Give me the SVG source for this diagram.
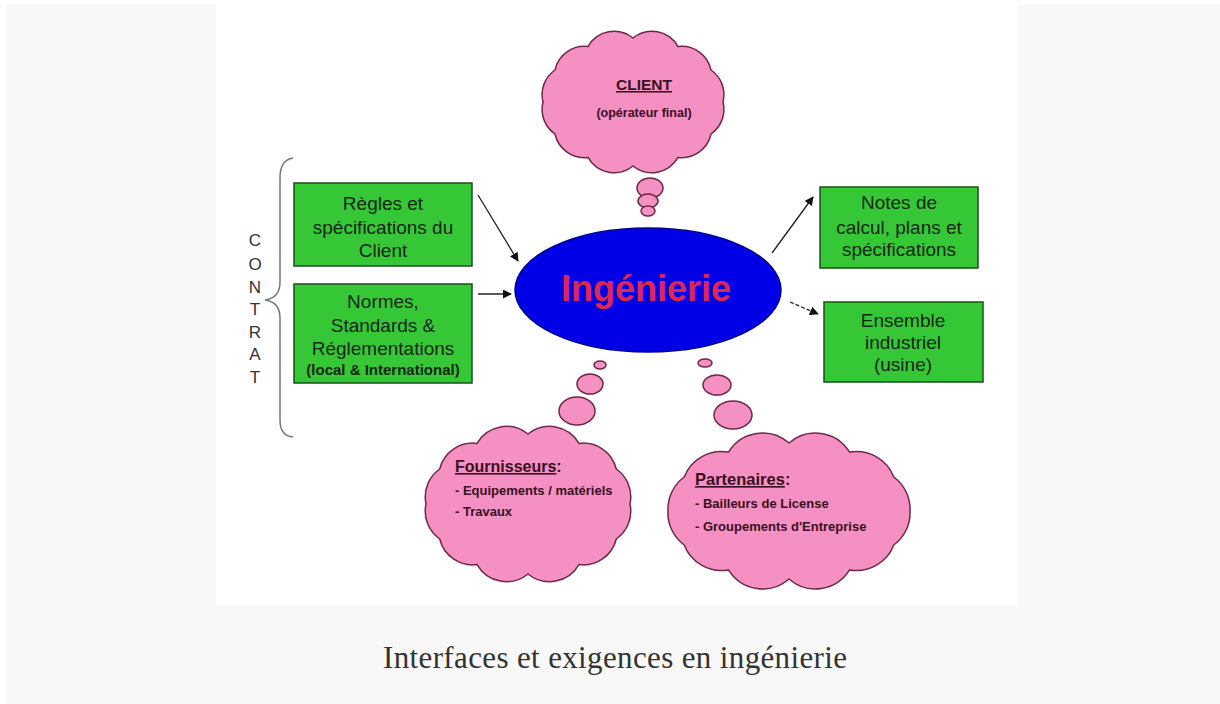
<svg xmlns="http://www.w3.org/2000/svg" width="1220" height="704" viewBox="0 0 1220 704">
  <defs>
    <marker id="arrow" viewBox="0 0 10 10" refX="9" refY="5" markerWidth="9" markerHeight="9" markerUnits="userSpaceOnUse" orient="auto">
      <path d="M0,0 L10,5 L0,10 Z" fill="#111"/>
    </marker>
  </defs>
  <style>
    .cloud { fill: #f590c2; stroke: #6e2848; stroke-width: 1.5; }
    .box { fill: #36c736; stroke: #1d4f1d; stroke-width: 1.5; }
    .btxt { font-family: "Liberation Sans", Arial, sans-serif; font-size: 19px; fill: #102810; text-anchor: middle; }
    .small { font-size: 15px; font-weight: bold; }
    .ctxt { font-family: "Liberation Sans", Arial, sans-serif; font-weight: bold; fill: #3a0f22; }
    .conn { stroke: #222; stroke-width: 1.3; fill: none; }
    .contrat { font-family: "Liberation Sans", Arial, sans-serif; font-size: 17px; fill: #333; text-anchor: middle; }
  </style>

  <rect x="6" y="5" width="1214" height="699" fill="#f8f8f8"/>
  <rect x="216" y="5" width="802" height="601" fill="#ffffff"/>

  <g id="client">
    <path class="cloud" d="M543,102 A30,30 0 0 1 555,70 A30,30 0 0 1 588,46.6 A30,30 0 0 1 633,38 A30,30 0 0 1 678,46.6 A30,30 0 0 1 711,70 A30,30 0 0 1 723,102 A30,30 0 0 1 711,134 A30,30 0 0 1 678,157.4 A30,30 0 0 1 633,166 A30,30 0 0 1 588,157.4 A30,30 0 0 1 555,134 A30,30 0 0 1 543,102 Z"/>
    <ellipse class="cloud" cx="650" cy="188" rx="13" ry="10"/>
    <ellipse class="cloud" cx="648" cy="201" rx="10" ry="7"/>
    <ellipse class="cloud" cx="648" cy="211" rx="7" ry="5"/>
    <text class="ctxt" x="644" y="90" font-size="15.5" text-anchor="middle" text-decoration="underline">CLIENT</text>
    <text class="ctxt" x="644" y="117" font-size="12.5" text-anchor="middle">(opérateur final)</text>
  </g>

  <g id="contrat">
    <path d="M293,158 Q280,160 280,178 L280,282 Q280,298 265,300 Q280,302 280,318 L280,420 Q280,436 293,437" fill="none" stroke="#777" stroke-width="1.5"/>
    <text class="contrat" x="255" y="246">C</text>
    <text class="contrat" x="255" y="270">O</text>
    <text class="contrat" x="255" y="293">N</text>
    <text class="contrat" x="255" y="315">T</text>
    <text class="contrat" x="255" y="338">R</text>
    <text class="contrat" x="255" y="360">A</text>
    <text class="contrat" x="255" y="383">T</text>
  </g>

  <g id="regles">
    <rect class="box" x="294" y="183" width="178" height="83"/>
    <text class="btxt" x="383" y="210">Règles et</text>
    <text class="btxt" x="383" y="234">spécifications du</text>
    <text class="btxt" x="383" y="257">Client</text>
  </g>

  <g id="normes">
    <rect class="box" x="294" y="284" width="178" height="99"/>
    <text class="btxt" x="383" y="308">Normes,</text>
    <text class="btxt" x="383" y="332">Standards &amp;</text>
    <text class="btxt" x="383" y="355">Réglementations</text>
    <text class="btxt small" x="383" y="375">(local &amp; International)</text>
  </g>

  <g id="ingenierie">
    <ellipse cx="648" cy="290" rx="133" ry="62" fill="#0000e6" stroke="#00008b" stroke-width="1.5"/>
    <text x="646" y="301" font-family="Liberation Sans, Arial, sans-serif" font-size="36" font-weight="bold" fill="#dc2850" text-anchor="middle">Ingénierie</text>
  </g>

  <g id="notes">
    <rect class="box" x="820" y="187" width="158" height="81"/>
    <text class="btxt" x="899" y="209">Notes de</text>
    <text class="btxt" x="899" y="234">calcul, plans et</text>
    <text class="btxt" x="899" y="256">spécifications</text>
  </g>

  <g id="ensemble">
    <rect class="box" x="824" y="302" width="159" height="80"/>
    <text class="btxt" x="903" y="327">Ensemble</text>
    <text class="btxt" x="903" y="349">industriel</text>
    <text class="btxt" x="903" y="371">(usine)</text>
  </g>

  <g id="fournisseurs">
    <ellipse class="cloud" cx="600" cy="365" rx="6" ry="4"/>
    <ellipse class="cloud" cx="590" cy="384" rx="13" ry="10"/>
    <ellipse class="cloud" cx="577" cy="411" rx="18" ry="14"/>
    <path class="cloud" d="M426,504 A34,34 0 0 1 439.7,469 A34,34 0 0 1 477,443.4 A34,34 0 0 1 528,434 A34,34 0 0 1 579,443.4 A34,34 0 0 1 616.3,469 A34,34 0 0 1 630,504 A34,34 0 0 1 616.3,539 A34,34 0 0 1 579,564.6 A34,34 0 0 1 528,574 A34,34 0 0 1 477,564.6 A34,34 0 0 1 439.7,539 A34,34 0 0 1 426,504 Z"/>
    <text class="ctxt" x="455" y="472" font-size="16"><tspan text-decoration="underline">Fournisseurs</tspan>:</text>
    <text class="ctxt" x="455" y="495" font-size="13">- Equipements / matériels</text>
    <text class="ctxt" x="455" y="516" font-size="13">- Travaux</text>
  </g>

  <g id="partenaires">
    <ellipse class="cloud" cx="705" cy="363" rx="7" ry="4"/>
    <ellipse class="cloud" cx="717" cy="385" rx="14" ry="10"/>
    <ellipse class="cloud" cx="733" cy="415" rx="19" ry="14"/>
    <path class="cloud" d="M668,511 A40,40 0 0 1 684.2,477 A40,40 0 0 1 728.5,452.1 A40,40 0 0 1 789,443 A40,40 0 0 1 849.5,452.1 A40,40 0 0 1 893.8,477 A40,40 0 0 1 910,511 A40,40 0 0 1 893.8,545 A40,40 0 0 1 849.5,569.9 A40,40 0 0 1 789,579 A40,40 0 0 1 728.5,569.9 A40,40 0 0 1 684.2,545 A40,40 0 0 1 668,511 Z"/>
    <text class="ctxt" x="695" y="485" font-size="16.5"><tspan text-decoration="underline">Partenaires</tspan>:</text>
    <text class="ctxt" x="695" y="508" font-size="13">- Bailleurs de License</text>
    <text class="ctxt" x="695" y="531" font-size="13">- Groupements d'Entreprise</text>
  </g>

  <g id="connectors">
    <line class="conn" x1="478" y1="195" x2="518" y2="261" marker-end="url(#arrow)"/>
    <line class="conn" x1="478" y1="294" x2="511" y2="294" marker-end="url(#arrow)"/>
    <line class="conn" x1="772" y1="253" x2="813" y2="197" marker-end="url(#arrow)"/>
    <line class="conn" x1="790" y1="302" x2="818" y2="314" stroke-dasharray="4,2" marker-end="url(#arrow)"/>
  </g>

  <text x="615" y="668" font-family="Liberation Serif, Times New Roman, serif" font-size="31" fill="#333" text-anchor="middle" textLength="464">Interfaces et exigences en ingénierie</text>
</svg>
